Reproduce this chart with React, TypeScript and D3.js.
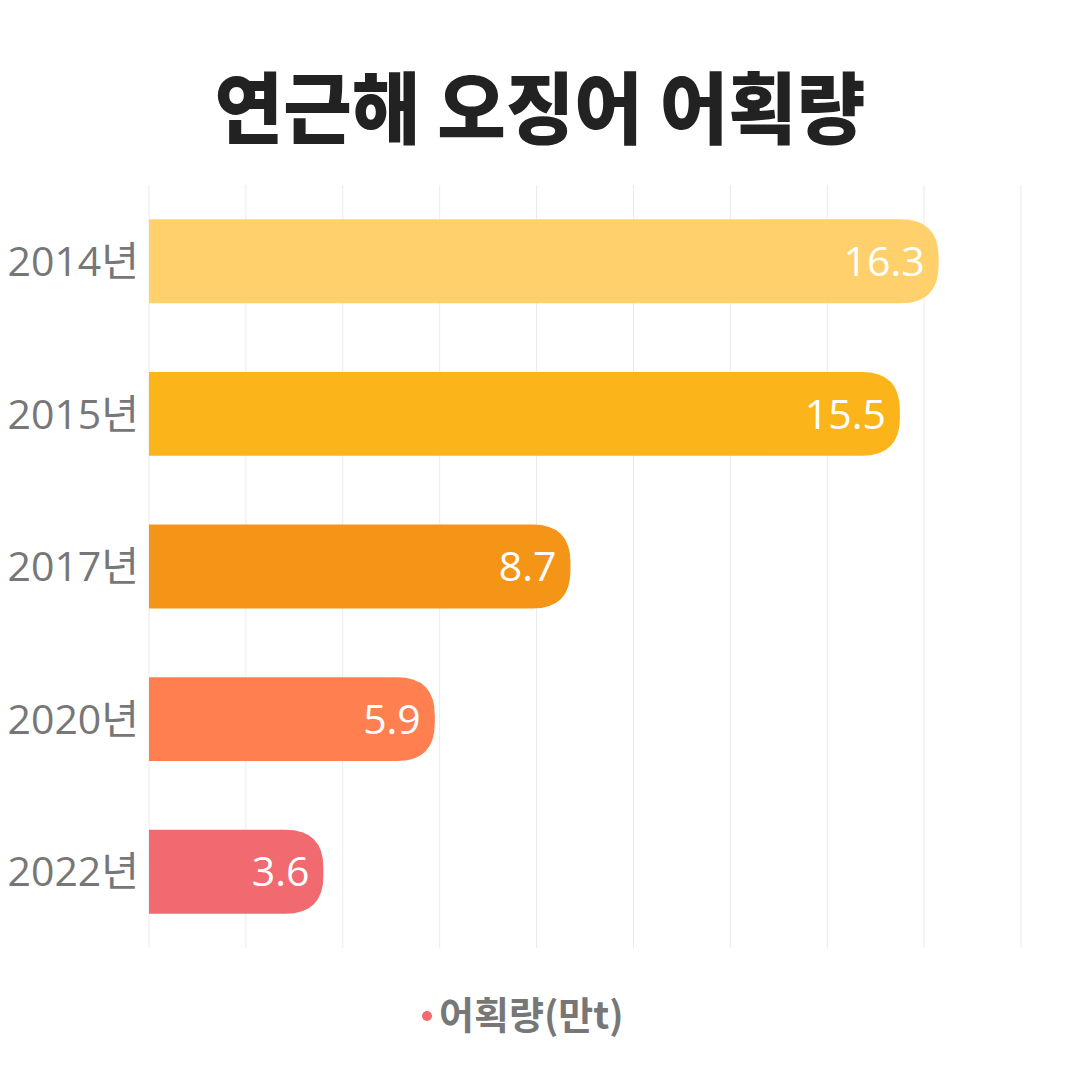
import { useEffect, useRef } from "react";
import * as d3 from "d3";

const years = ["2014년", "2015년", "2017년", "2020년", "2022년"];
const catch_ = [16.3, 15.5, 8.7, 5.9, 3.6];
const colors = ["#FFD06B", "#FBB51B", "#F59518", "#FF7F50", "#F06A6F"];
const xTicks = [0, 2, 4, 6, 8, 10, 12, 14, 16, 18];

const FONT = "'Noto Sans CJK KR', 'Noto Sans', sans-serif";
const LABEL_FONT = "'Open Sans', 'Noto Sans CJK KR', sans-serif";

export default function App() {
  const svgRef = useRef<SVGSVGElement>(null);

  useEffect(() => {
    if (!svgRef.current) return;
    const svg = d3.select(svgRef.current);
    svg.selectAll("*").remove();

    const width = 1080;
    const height = 1080;
    const margin = { top: 185, right: 59, bottom: 132, left: 149 };
    const innerW = width - margin.left - margin.right;
    const innerH = height - margin.top - margin.bottom;

    svg.append("rect").attr("width", width).attr("height", height).attr("fill", "#fff");

    // Title
    svg
      .append("text")
      .attr("transform", `translate(${width / 2},138) scale(0.955,1)`)
      .attr("text-anchor", "middle")
      .style("font-family", FONT)
      .style("font-size", "78px")
      .style("font-weight", 900)
      .attr("fill", "#222")
      .text("연근해 오징어 어획량");

    const g = svg.append("g").attr("transform", `translate(${margin.left},${margin.top})`);

    const x = d3.scaleLinear().domain([0, 18]).range([0, innerW]);
    const y = d3.scaleBand().domain(years).range([0, innerH]).paddingInner(0.45).paddingOuter(0.225);

    // Grid
    g.selectAll("line.grid")
      .data(xTicks)
      .enter()
      .append("line")
      .attr("x1", (d) => x(d))
      .attr("x2", (d) => x(d))
      .attr("y1", 0)
      .attr("y2", innerH)
      .attr("stroke", "#ebebeb")
      .attr("stroke-width", 1);

    // Bars with rounded right end
    const r = 38;
    g.selectAll("path.bar")
      .data(catch_)
      .enter()
      .append("path")
      .attr("d", (d, i) => {
        const y0 = y(years[i])!;
        const h = y.bandwidth();
        const w = x(d);
        const rr = Math.min(r, h / 2, w);
        return `M0,${y0} H${w - rr} Q${w},${y0} ${w},${y0 + rr} V${y0 + h - rr} Q${w},${y0 + h} ${w - rr},${y0 + h} H0 Z`;
      })
      .attr("fill", (_d, i) => colors[i]);

    // Value labels
    g.selectAll("text.val")
      .data(catch_)
      .enter()
      .append("text")
      .attr("x", (d) => x(d) - 14)
      .attr("y", (_d, i) => y(years[i])! + y.bandwidth() / 2)
      .attr("dy", "0.36em")
      .attr("text-anchor", "end")
      .style("font-family", LABEL_FONT)
      .style("font-size", "41px")
      .attr("fill", "#fff")
      .text((d) => d.toFixed(1));

    // Category labels
    g.selectAll("text.cat")
      .data(years)
      .enter()
      .append("text")
      .attr("x", -10)
      .attr("y", (d) => y(d)! + y.bandwidth() / 2)
      .attr("dy", "0.36em")
      .attr("text-anchor", "end")
      .style("font-family", LABEL_FONT)
      .style("font-size", "41px")
      .attr("fill", "#777")
      .text((d) => d);

    // Legend
    const legend = svg.append("g").attr("transform", "translate(427,1016)");
    legend.append("circle").attr("cx", 0).attr("cy", 0).attr("r", 5).attr("fill", "#F06A6F");
    legend
      .append("text")
      .attr("x", 12)
      .attr("y", 0)
      .attr("dy", "0.35em")
      .style("font-family", FONT)
      .style("font-size", "38px")
      .style("font-weight", 700)
      .attr("fill", "#777")
      .text("어획량(만t)");
  }, []);

  return (
    <div style={{ width: 1080, height: 1080, margin: -8 }}>
      <svg ref={svgRef} width={1080} height={1080} style={{ display: "block" }} />
    </div>
  );
}
